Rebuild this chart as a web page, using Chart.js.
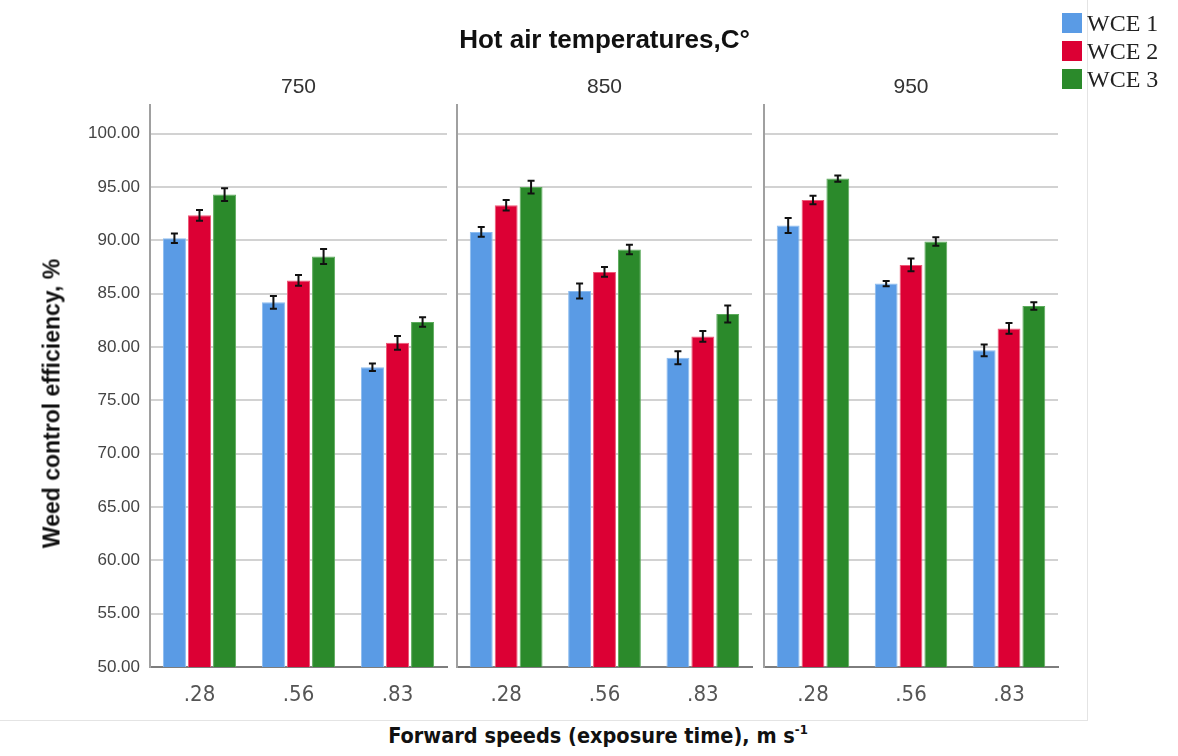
<!DOCTYPE html>
<html>
<head>
<meta charset="utf-8">
<title>Weed control efficiency</title>
<script src="https://cdn.jsdelivr.net/npm/chart.js@4.4.1/dist/chart.umd.min.js"></script>
<style>
  body { margin: 0; background: #fff; }
  #wrap { position: relative; width: 1178px; height: 756px; background: #fff; overflow: hidden; }
  #wrap canvas { position: absolute; top: 0; }
  .frameV { position: absolute; left: 1087px; top: 0; width: 1px; height: 720px; background: #e4e4e4; }
  .frameH { position: absolute; left: 0; top: 720px; width: 1088px; height: 1px; background: #e4e4e4; }
  #mainTitle { position: absolute; left: 457px; width: 295px; top: 24px; line-height: 32px; text-align: center;
    font: bold 26px "Liberation Sans", Arial, sans-serif; color: #111; white-space: nowrap; }
  #yTitle { position: absolute; left: -148px; top: 390px; width: 400px; line-height: 30px; text-align: center;
    transform: rotate(-90deg); font: bold 23px "Liberation Sans", Arial, sans-serif; color: #111; white-space: nowrap; }
  #xTitle { position: absolute; left: 290px; width: 616px; top: 723px; line-height: 30px; text-align: center;
    font: bold 21.5px "DejaVu Sans Condensed", "DejaVu Sans", sans-serif; color: #111; white-space: nowrap; }
  #xTitle sup { font-size: 13px; vertical-align: 9px; line-height: 0; }
  #legend { position: absolute; left: 1062px; top: 10px; }
  .item { position: relative; height: 28px; }
  .swatch { position: absolute; left: 0; top: 3px; width: 20px; height: 20px; }
  .label { position: absolute; left: 25px; top: 0; line-height: 28px; font: 24px "Liberation Serif", "Times New Roman", serif; color: #222; white-space: nowrap; }
</style>
</head>
<body>
<div id="wrap">
  <canvas id="p0"></canvas>
  <canvas id="p1"></canvas>
  <canvas id="p2"></canvas>
  <div class="frameV"></div>
  <div class="frameH"></div>
  <div id="mainTitle">Hot air temperatures,C°</div>
  <div id="yTitle">Weed control efficiency, %</div>
  <div id="xTitle">Forward speeds (exposure time), m s<sup>-1</sup></div>
  <div id="legend"></div>
</div>
<script>
// panels (hot air temperature) and categories (forward speed)
const temps = ['750', '850', '950'];
const speeds = ['.28', '.56', '.83'];
const seriesNames = ['WCE 1', 'WCE 2', 'WCE 3'];
const seriesColors = ['#5a9be5', '#dc0034', '#2b8a2b'];
const seriesEdges = ['#8cbcf0', '#ee5a78', '#5cab5c'];

// means, one row per temperature, one value per speed
const wce1 = [[90.2, 84.2, 78.1], [90.8, 85.25, 79.0], [91.4, 85.95, 79.7]];
const wce2 = [[92.35, 86.25, 80.4], [93.3, 87.05, 81.0], [93.8, 87.7, 81.75]];
const wce3 = [[94.3, 88.5, 82.35], [95.0, 89.15, 83.1], [95.8, 89.9, 83.85]];

// error bar half-lengths
const err1 = [[0.45, 0.6, 0.35], [0.45, 0.7, 0.6], [0.7, 0.25, 0.55]];
const err2 = [[0.5, 0.5, 0.65], [0.5, 0.45, 0.5], [0.4, 0.6, 0.5]];
const err3 = [[0.6, 0.7, 0.45], [0.6, 0.45, 0.8], [0.3, 0.4, 0.35]];

const yTicks = [50, 55, 60, 65, 70, 75, 80, 85, 90, 95, 100];

// canvas placement of each panel: left edge, width, y-axis width
const panelBoxes = [
  { left: 0, width: 452, axisW: 150 },
  { left: 452, width: 305, axisW: 5 },
  { left: 757, width: 306, axisW: 7 }
];

const errorBars = {
  id: 'errorBars',
  afterDatasetsDraw(chart) {
    const ctx = chart.ctx;
    const y = chart.scales.y;
    ctx.save();
    ctx.strokeStyle = '#111';
    ctx.lineWidth = 2;
    chart.data.datasets.forEach((ds, di) => {
      chart.getDatasetMeta(di).data.forEach((bar, i) => {
        const hi = y.getPixelForValue(ds.data[i] + ds.errors[i]);
        const lo = y.getPixelForValue(ds.data[i] - ds.errors[i]);
        ctx.beginPath();
        ctx.moveTo(bar.x, hi); ctx.lineTo(bar.x, lo);
        ctx.moveTo(bar.x - 3.5, hi); ctx.lineTo(bar.x + 3.5, hi);
        ctx.moveTo(bar.x - 3.5, lo); ctx.lineTo(bar.x + 3.5, lo);
        ctx.stroke();
      });
    });
    ctx.restore();
  }
};

const means = [wce1, wce2, wce3];
const errs = [err1, err2, err3];

temps.forEach((t, p) => {
  const box = panelBoxes[p];
  const canvas = document.getElementById('p' + p);
  canvas.style.left = box.left + 'px';
  canvas.width = box.width;
  canvas.height = 720;
  canvas.style.width = box.width + 'px';
  canvas.style.height = '720px';

  const datasets = seriesNames.map((name, s) => ({
    label: name,
    data: means[s][p],
    errors: errs[s][p],
    backgroundColor: seriesColors[s],
    borderColor: seriesEdges[s],
    borderWidth: 1,
    categoryPercentage: 0.76,
    barPercentage: 0.92
  }));

  new Chart(canvas, {
    type: 'bar',
    data: { labels: speeds, datasets: datasets },
    options: {
      responsive: false,
      animation: false,
      layout: { padding: { left: 0, right: 5, top: 0, bottom: 0 } },
      plugins: {
        legend: { display: false },
        tooltip: { enabled: false },
        title: {
          display: true,
          fullSize: false,
          text: t,
          color: '#333',
          font: { family: 'Liberation Sans', size: 21, weight: 'normal' },
          padding: { top: 74.4, bottom: 5.4 }
        }
      },
      scales: {
        x: {
          grid: { display: false, drawTicks: false },
          border: { display: true, color: '#7d7d7d', width: 2 },
          ticks: {
            color: '#555',
            padding: 15,
            font: { family: 'DejaVu Sans Condensed', size: 22 }
          },
          afterFit: (scale) => { scale.height = 53; }
        },
        y: {
          min: 50,
          max: 102.7,
          grid: { color: '#d2d2d2', lineWidth: 2, drawTicks: false },
          border: { display: true, color: '#a0a0a0', width: 2 },
          ticks: {
            display: p === 0,
            stepSize: 5,
            padding: 10,
            color: '#444',
            font: { family: 'Liberation Sans', size: 17 },
            callback: (v) => Number(v).toFixed(2)
          },
          afterBuildTicks: (scale) => {
            scale.ticks = yTicks.map((v) => ({ value: v }));
          },
          afterFit: (scale) => { scale.width = box.axisW; }
        }
      }
    },
    plugins: [errorBars]
  });
});

// legend
const legend = document.getElementById('legend');
seriesNames.forEach((name, s) => {
  const item = document.createElement('div');
  item.className = 'item';
  item.innerHTML = '<span class="swatch" style="background:' + seriesColors[s] + '"></span><span class="label">' + name + '</span>';
  legend.appendChild(item);
});
</script>
</body>
</html>
